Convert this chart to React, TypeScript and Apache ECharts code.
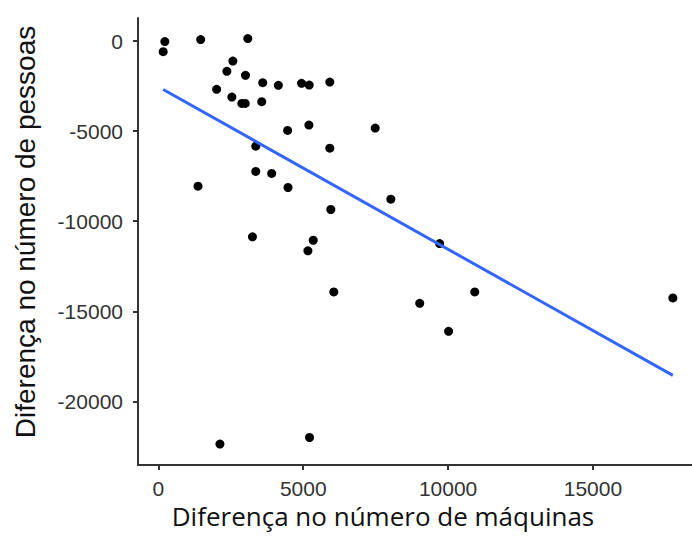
import React, { useEffect, useRef } from "react";
import * as echarts from "echarts";

// Scatter data: difference in number of machines (x) vs difference in number of people (y)
const machinesDiff: number[] = [
  166, 223, 1368, 1460, 2010, 2124, 2364, 2536, 2571, 2880, 2997, 3007, 3086,
  3247, 3361, 3361, 3567, 3602, 3911, 4141, 4461, 4474, 4942, 5161, 5196, 5206,
  5217, 5344, 5917, 5917, 5952, 6055, 7485, 8024, 9021, 9708, 10017, 10921, 17759,
];
const peopleDiff: number[] = [
  -589, -33, -8056, 78, -2683, -22367, -1683, -3111, -1111, -3461, -3461, -1906, 133,
  -10867, -5833, -7239, -3367, -2311, -7350, -2461, -4961, -8128, -2350, -11644, -4667, -2444,
  -22000, -11056, -2278, -5944, -9350, -13922, -4833, -8778, -14556, -11239, -16111, -13922, -14256,
];

// Fitted linear trend (endpoints at the data's x range)
const fitX: number[] = [166, 17759];
const fitY: number[] = [-2692, -18552];

const xTicks: number[] = [0, 5000, 10000, 15000];
const yTicks: number[] = [0, -5000, -10000, -15000, -20000];

const xTitle = "Diferença no número de máquinas";
const yTitle = "Diferença no número de pessoas";

export default function App() {
  const ref = useRef<HTMLDivElement>(null);
  useEffect(() => {
    document.body.style.margin = "0";
    if (!ref.current) return;
    const chart = echarts.init(ref.current, null, { renderer: "svg" });
    const axisColor = "#333333";
    const labelColor = "#333333";
    const plain = (v: number) => String(v);
    chart.setOption({
      animation: false,
      backgroundColor: "#ffffff",
      grid: { left: 138, right: 0, top: 18, bottom: 78, containLabel: false },
      xAxis: {
        type: "value",
        min: -704,
        max: 18420,
        splitLine: { show: false },
        axisLine: { show: true, onZero: false, lineStyle: { color: axisColor, width: 2 } },
        axisTick: { show: true, length: 5, customValues: xTicks, lineStyle: { color: axisColor, width: 2 } },
        axisLabel: {
          customValues: xTicks,
          formatter: plain,
          margin: 13,
          fontSize: 21,
          color: labelColor,
          fontFamily: "Liberation Sans, Arial, sans-serif",
        },
      },
      yAxis: {
        type: "value",
        min: -23527,
        max: 1277,
        splitLine: { show: false },
        axisLine: { show: true, onZero: false, lineStyle: { color: axisColor, width: 2 } },
        axisTick: { show: true, length: 5, customValues: yTicks, lineStyle: { color: axisColor, width: 2 } },
        axisLabel: {
          customValues: yTicks,
          formatter: plain,
          margin: 15,
          fontSize: 21,
          color: labelColor,
          fontFamily: "Liberation Sans, Arial, sans-serif",
        },
      },
      series: [
        {
          type: "scatter",
          data: machinesDiff.map((x, i) => [x, peopleDiff[i]]),
          symbol: "circle",
          symbolSize: 9,
          itemStyle: { color: "#000000", opacity: 1 },
          z: 2,
        },
        {
          type: "line",
          data: fitX.map((x, i) => [x, fitY[i]]),
          showSymbol: false,
          lineStyle: { color: "#3366FF", width: 3 },
          z: 3,
        },
      ],
      graphic: [
        {
          type: "text",
          x: 383,
          y: 516,
          style: {
            text: xTitle,
            fontSize: 26,
            fontFamily: "Open Sans, sans-serif",
            fill: "#111111",
            textAlign: "center",
            textVerticalAlign: "middle",
          },
        },
        {
          type: "text",
          x: 25,
          y: 232,
          rotation: Math.PI / 2,
          style: {
            text: yTitle,
            fontSize: 28,
            fontFamily: "Liberation Sans, Arial, sans-serif",
            fill: "#111111",
            textAlign: "center",
            textVerticalAlign: "middle",
          },
        },
      ],
    });
    return () => chart.dispose();
  }, []);
  return <div ref={ref} style={{ width: 692, height: 543 }} />;
}
